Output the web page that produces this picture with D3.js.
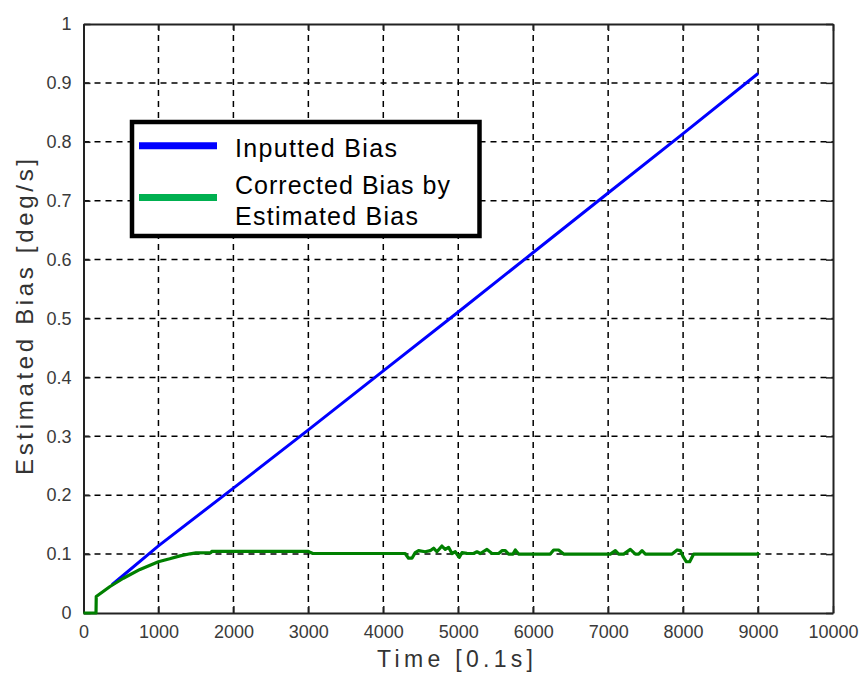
<!DOCTYPE html>
<html>
<head>
<meta charset="utf-8">
<script src="https://cdn.jsdelivr.net/npm/d3@7"></script>
<style>
  body { margin: 0; background: #fff; }
  text { font-family: "Liberation Sans", Arial, sans-serif; }
</style>
</head>
<body>
<div id="chart"></div>
<script>
// datos
const xTicks = [0, 1000, 2000, 3000, 4000, 5000, 6000, 7000, 8000, 9000, 10000]
const yTicks = [0, 0.1, 0.2, 0.3, 0.4, 0.5, 0.6, 0.7, 0.8, 0.9, 1]

// Inputted Bias (linea azul)
const inputT = [380, 1000, 2000, 3000, 4000, 5000, 6000, 7000, 8000, 9000]
const inputV = [0.048, 0.114, 0.212, 0.311, 0.411, 0.511, 0.612, 0.713, 0.814, 0.916]

// Corrected Bias by Estimated Bias (linea verde)
const corrT = [0, 167, 170, 354, 532, 754, 999, 1150, 1288, 1422, 1500, 1700, 1711, 3000, 3015, 3060,
  4292, 4337, 4382, 4426, 4471, 4559, 4626, 4671, 4715, 4782, 4826, 4871, 4916, 4960, 5013, 5049,
  5116, 5205, 5250, 5294, 5383, 5450, 5539, 5583, 5628, 5672, 5730, 5761, 5805, 6228, 6273, 6339, 6406,
  7029, 7096, 7140, 7207, 7296, 7363, 7407, 7452, 7497, 7853, 7920, 7964, 8000, 8044, 8088, 8141, 8988, 9010]
const corrV = [0, 0, 0.028, 0.045, 0.059, 0.074, 0.087, 0.092, 0.097, 0.1005, 0.102, 0.1025, 0.1045, 0.1045, 0.1035, 0.101,
  0.101, 0.093, 0.093, 0.1024, 0.1058, 0.104, 0.1058, 0.110, 0.104, 0.1137, 0.108, 0.1115, 0.101, 0.104, 0.0945, 0.1024,
  0.1013, 0.101, 0.104, 0.101, 0.108, 0.101, 0.101, 0.1058, 0.1058, 0.100, 0.100, 0.107, 0.100, 0.100, 0.107, 0.107, 0.100,
  0.100, 0.1058, 0.100, 0.100, 0.108, 0.100, 0.100, 0.1058, 0.100, 0.100, 0.107, 0.1058, 0.0956, 0.087, 0.087, 0.100, 0.100, 0.1025]

const legendLabels = ["Inputted Bias", "Corrected Bias by", "Estimated Bias"]

const width = 860
const height = 680
const margin = { top: 24, bottom: 67, left: 83.5, right: 27 }

const svg = d3.select("div#chart").append("svg").attr("width", width).attr("height", height)

const x = d3.scaleLinear().domain([0, 10000]).range([margin.left, width - margin.right])
const y = d3.scaleLinear().domain([0, 1]).range([height - margin.bottom, margin.top])

// rejilla punteada
const grid = svg.append("g").attr("class", "grid")
grid.selectAll("line.v").data(xTicks.slice(1, -1)).join("line")
  .attr("x1", d => x(d)).attr("x2", d => x(d))
  .attr("y1", y(0)).attr("y2", y(1))
  .attr("stroke", "#000").attr("stroke-width", 1.5).attr("stroke-dasharray", "6,5")
grid.selectAll("line.h").data(yTicks.slice(1, -1)).join("line")
  .attr("x1", x(0)).attr("x2", x(10000))
  .attr("y1", d => y(d)).attr("y2", d => y(d))
  .attr("stroke", "#000").attr("stroke-width", 1.5).attr("stroke-dasharray", "6,5")

// ejes
const fmtY = d => d === 0 ? "0" : d === 1 ? "1" : d3.format(".1f")(d)
const xAxis = d3.axisBottom(x).tickValues(xTicks).tickSizeInner(-7).tickSizeOuter(0).tickPadding(12).tickFormat(d3.format("d"))
const yAxis = d3.axisLeft(y).tickValues(yTicks).tickSizeInner(-7).tickSizeOuter(0).tickPadding(12).tickFormat(fmtY)
const xTop = d3.axisTop(x).tickValues(xTicks).tickSizeInner(-7).tickSizeOuter(0).tickFormat("")
const yRight = d3.axisRight(y).tickValues(yTicks).tickSizeInner(-7).tickSizeOuter(0).tickFormat("")

const axisGroup = svg.append("g").attr("class", "axisGroup")
axisGroup.append("g").attr("transform", `translate(0, ${y(0)})`).call(xAxis)
axisGroup.append("g").attr("transform", `translate(${x(0)}, 0)`).call(yAxis)
axisGroup.append("g").attr("transform", `translate(0, ${y(1)})`).call(xTop)
axisGroup.append("g").attr("transform", `translate(${x(10000)}, 0)`).call(yRight)

axisGroup.selectAll(".domain").attr("stroke", "#222").attr("stroke-width", 2)
axisGroup.selectAll(".tick line").attr("stroke", "#222").attr("stroke-width", 1.5)
axisGroup.selectAll(".tick text").attr("font-size", 18).attr("fill", "#3a3a3a")
  .attr("font-family", "'Liberation Sans', Arial, sans-serif")

// lineas de datos
const line = d3.line().x(d => x(d[0])).y(d => y(d[1]))
const elementGroup = svg.append("g").attr("class", "elementGroup")
elementGroup.append("path").datum(d3.zip(inputT, inputV))
  .attr("d", line).attr("fill", "none").attr("stroke", "#0000ff").attr("stroke-width", 3)
elementGroup.append("path").datum(d3.zip(corrT, corrV))
  .attr("d", line).attr("fill", "none").attr("stroke", "#008000").attr("stroke-width", 3.2)
  .attr("stroke-linejoin", "round")

// etiquetas de ejes
svg.append("text").attr("x", 455).attr("y", 667).attr("text-anchor", "middle")
  .attr("font-size", 23).attr("fill", "#333").attr("textLength", 156).attr("lengthAdjust", "spacing")
  .text("Time [0.1s]")
svg.append("text").attr("transform", "translate(33, 317) rotate(-90)").attr("text-anchor", "middle")
  .attr("font-size", 24).attr("fill", "#333").attr("textLength", 316).attr("lengthAdjust", "spacing")
  .text("Estimated Bias [deg/s]")

// leyenda
const legend = svg.append("g").attr("class", "legend")
legend.append("rect").attr("x", 132).attr("y", 122).attr("width", 347.5).attr("height", 114)
  .attr("fill", "#fff").attr("stroke", "#000").attr("stroke-width", 4.5)
legend.append("line").attr("x1", 139).attr("x2", 217).attr("y1", 145.7).attr("y2", 145.7)
  .attr("stroke", "#0000ff").attr("stroke-width", 7)
legend.append("line").attr("x1", 139).attr("x2", 217).attr("y1", 197.5).attr("y2", 197.5)
  .attr("stroke", "#00b050").attr("stroke-width", 7)
const legendY = [157, 193.5, 224.5]
const legendW = [162, 215, 183]
legend.selectAll("text.lbl").data(legendLabels).join("text")
  .attr("x", 235).attr("y", (d, i) => legendY[i])
  .attr("font-size", 25).attr("fill", "#000")
  .attr("textLength", (d, i) => legendW[i]).attr("lengthAdjust", "spacing")
  .text(d => d)
</script>
</body>
</html>
